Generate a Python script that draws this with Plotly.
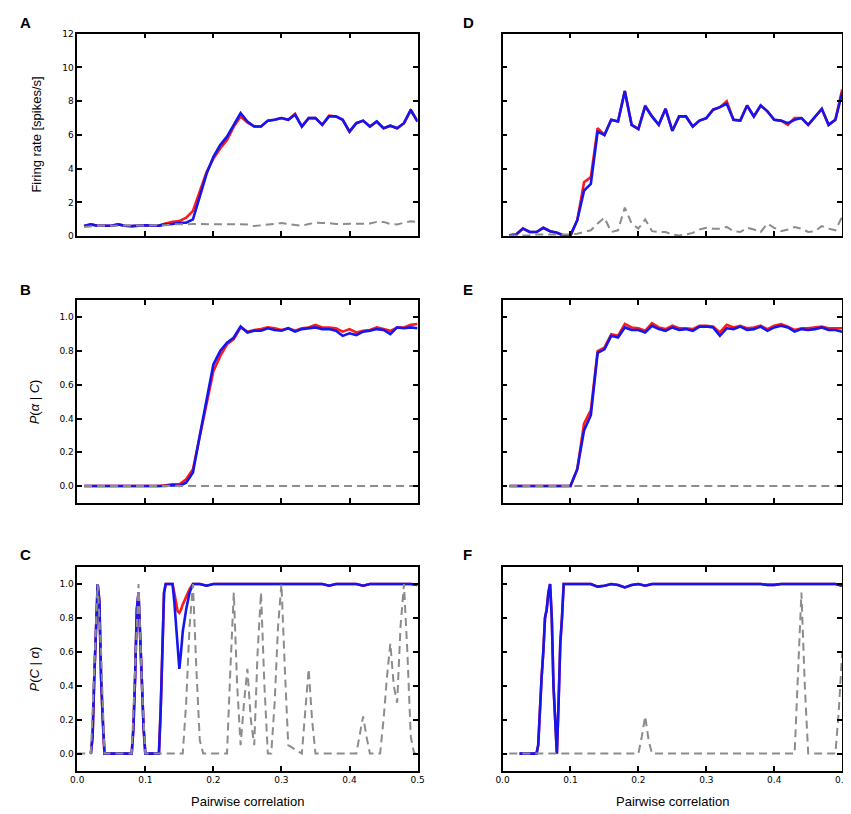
import plotly.graph_objects as go

W, H = 851, 814

# ---------------- data ----------------
corr = [0.01, 0.02, 0.03, 0.04, 0.05, 0.06, 0.07, 0.08, 0.09, 0.10,
        0.11, 0.12, 0.13, 0.14, 0.15, 0.16, 0.17, 0.18, 0.19, 0.20,
        0.21, 0.22, 0.23, 0.24, 0.25, 0.26, 0.27, 0.28, 0.29, 0.30,
        0.31, 0.32, 0.33, 0.34, 0.35, 0.36, 0.37, 0.38, 0.39, 0.40,
        0.41, 0.42, 0.43, 0.44, 0.45, 0.46, 0.47, 0.48, 0.49, 0.50]

# Panel A: firing rate
a_blue = [0.60, 0.70, 0.62, 0.62, 0.62, 0.70, 0.62, 0.60, 0.62, 0.65,
          0.62, 0.63, 0.70, 0.72, 0.80, 0.80, 1.00, 2.40, 3.70, 4.70,
          5.40, 5.90, 6.60, 7.30, 6.80, 6.50, 6.50, 6.85, 6.90, 7.00,
          6.90, 7.20, 6.50, 7.00, 7.00, 6.60, 7.10, 7.10, 6.90, 6.20,
          6.70, 6.85, 6.50, 6.80, 6.40, 6.55, 6.40, 6.70, 7.50, 6.80]
a_red = [0.60, 0.70, 0.62, 0.62, 0.62, 0.70, 0.62, 0.60, 0.62, 0.65,
         0.62, 0.63, 0.75, 0.85, 0.90, 1.10, 1.50, 2.60, 3.80, 4.60,
         5.20, 5.70, 6.50, 7.10, 6.75, 6.50, 6.50, 6.85, 6.90, 7.00,
         6.90, 7.25, 6.50, 7.00, 7.00, 6.60, 7.15, 7.10, 6.90, 6.20,
         6.70, 6.85, 6.50, 6.80, 6.40, 6.55, 6.40, 6.70, 7.45, 6.80]
a_gray = [0.55, 0.60, 0.62, 0.62, 0.62, 0.62, 0.62, 0.62, 0.62, 0.62,
          0.62, 0.62, 0.65, 0.70, 0.72, 0.72, 0.72, 0.72, 0.72, 0.72,
          0.72, 0.72, 0.72, 0.72, 0.70, 0.60, 0.65, 0.70, 0.72, 0.78,
          0.72, 0.68, 0.62, 0.72, 0.80, 0.78, 0.78, 0.72, 0.72, 0.72,
          0.72, 0.72, 0.75, 0.85, 0.85, 0.72, 0.70, 0.80, 0.88, 0.85]

# Panel D: firing rate
d_blue = [0.05, 0.10, 0.45, 0.25, 0.25, 0.50, 0.30, 0.20, 0.05, 0.05,
          0.95, 2.70, 3.10, 6.20, 6.00, 6.90, 6.80, 8.60, 6.60, 6.35,
          7.70, 7.10, 6.60, 7.55, 6.25, 7.10, 7.10, 6.50, 6.85, 7.00,
          7.50, 7.65, 7.85, 6.90, 6.85, 7.75, 7.10, 7.75, 7.40, 6.90,
          6.85, 6.70, 6.90, 7.00, 6.60, 7.10, 7.55, 6.60, 6.90, 8.50]
d_red = [0.05, 0.10, 0.45, 0.25, 0.25, 0.50, 0.30, 0.20, 0.05, 0.05,
         0.95, 3.20, 3.50, 6.40, 6.00, 6.90, 6.80, 8.60, 6.60, 6.35,
         7.75, 7.10, 6.60, 7.55, 6.25, 7.10, 7.10, 6.50, 6.85, 7.00,
         7.50, 7.65, 8.00, 6.90, 6.85, 7.75, 7.10, 7.75, 7.40, 6.90,
         6.85, 6.60, 7.00, 7.00, 6.60, 7.10, 7.55, 6.60, 6.90, 8.70]
d_gray = [0.05, 0.05, 0.05, 0.05, 0.10, 0.10, 0.10, 0.10, 0.10, 0.10,
          0.15, 0.25, 0.35, 0.75, 1.10, 0.25, 0.35, 1.70, 0.75, 0.45,
          1.00, 0.30, 0.25, 0.25, 0.10, 0.05, 0.10, 0.20, 0.40, 0.50,
          0.45, 0.45, 0.55, 0.30, 0.25, 0.50, 0.40, 0.25, 0.75, 0.50,
          0.30, 0.40, 0.55, 0.45, 0.25, 0.30, 0.60, 0.45, 0.35, 1.15]

# Panel B: P(alpha | C)
b_blue = [0, 0, 0, 0, 0, 0, 0, 0, 0, 0,
          0.0, 0.0, 0.0, 0.005, 0.0, 0.02, 0.08, 0.30, 0.52, 0.72,
          0.80, 0.85, 0.88, 0.945, 0.91, 0.92, 0.92, 0.935, 0.925, 0.92,
          0.935, 0.915, 0.93, 0.935, 0.94, 0.93, 0.93, 0.92, 0.89, 0.905,
          0.895, 0.915, 0.92, 0.93, 0.925, 0.90, 0.94, 0.935, 0.94, 0.935]
b_red = [0, 0, 0, 0, 0, 0, 0, 0, 0, 0,
         0.0, 0.0, 0.005, 0.01, 0.01, 0.04, 0.10, 0.30, 0.50, 0.68,
         0.77, 0.84, 0.87, 0.94, 0.915, 0.925, 0.93, 0.94, 0.935, 0.925,
         0.935, 0.92, 0.935, 0.94, 0.955, 0.94, 0.94, 0.935, 0.915, 0.93,
         0.91, 0.92, 0.925, 0.94, 0.93, 0.92, 0.94, 0.94, 0.955, 0.96]
b_gray = [0] * 50

# Panel E: P(alpha | C)
e_blue = [0, 0, 0, 0, 0, 0, 0, 0, 0, 0,
          0.10, 0.33, 0.42, 0.79, 0.81, 0.89, 0.88, 0.94, 0.925, 0.925,
          0.91, 0.95, 0.93, 0.92, 0.94, 0.925, 0.93, 0.92, 0.945, 0.945,
          0.94, 0.89, 0.935, 0.93, 0.945, 0.925, 0.93, 0.945, 0.92, 0.94,
          0.95, 0.94, 0.915, 0.93, 0.925, 0.93, 0.94, 0.925, 0.925, 0.915]
e_red = [0, 0, 0, 0, 0, 0, 0, 0, 0, 0,
         0.10, 0.37, 0.45, 0.80, 0.82, 0.90, 0.89, 0.96, 0.94, 0.935,
         0.92, 0.965, 0.94, 0.93, 0.95, 0.935, 0.935, 0.93, 0.95, 0.95,
         0.945, 0.91, 0.955, 0.94, 0.95, 0.935, 0.94, 0.95, 0.93, 0.95,
         0.96, 0.945, 0.925, 0.935, 0.935, 0.94, 0.945, 0.935, 0.935, 0.935]
e_gray = [0] * 50

# Panel C: P(C | alpha)
c_x = [0.02, 0.0225, 0.025, 0.0275, 0.03, 0.0325, 0.035, 0.0375, 0.04,
       0.08, 0.0825, 0.085, 0.0875, 0.09, 0.0925, 0.095, 0.0975, 0.10,
       0.12, 0.1225, 0.125, 0.1275, 0.13,
       0.14, 0.1425, 0.145, 0.1475, 0.15, 0.1525, 0.155, 0.16, 0.165, 0.17,
       0.18, 0.19, 0.20, 0.36, 0.37, 0.38, 0.41, 0.42, 0.43, 0.49, 0.50]
c_blue = [0, 0.1, 0.45, 0.8, 1.0, 0.9, 0.45, 0.2, 0,
          0, 0.15, 0.45, 0.85, 0.95, 0.7, 0.35, 0.15, 0,
          0, 0.25, 0.65, 0.95, 1.0,
          1.0, 0.9, 0.75, 0.6, 0.5, 0.6, 0.72, 0.85, 0.95, 1.0,
          1.0, 0.99, 1.0, 1.0, 0.99, 1.0, 1.0, 0.99, 1.0, 1.0, 0.995]
c_red = [0, 0.1, 0.45, 0.8, 1.0, 0.9, 0.45, 0.2, 0,
         0, 0.15, 0.45, 0.85, 0.95, 0.7, 0.35, 0.15, 0,
         0, 0.25, 0.65, 0.95, 1.0,
         1.0, 0.95, 0.88, 0.84, 0.83, 0.85, 0.88, 0.93, 0.97, 1.0,
         1.0, 0.99, 1.0, 1.0, 0.99, 1.0, 1.0, 0.99, 1.0, 1.0, 0.995]
c_gray_x = [0.0, 0.02, 0.025, 0.03, 0.035, 0.04,
            0.08, 0.085, 0.09, 0.095, 0.10,
            0.155, 0.16, 0.165, 0.17, 0.175, 0.18, 0.185,
            0.22, 0.225, 0.23, 0.235, 0.24, 0.245, 0.25, 0.255, 0.26, 0.265, 0.27, 0.275, 0.28,
            0.285, 0.29, 0.295, 0.30, 0.305, 0.31,
            0.33, 0.335, 0.34, 0.345, 0.35,
            0.41, 0.415, 0.42, 0.425, 0.43,
            0.445, 0.45, 0.455, 0.46, 0.465, 0.47, 0.475, 0.48, 0.485, 0.49, 0.495, 0.50]
c_gray = [0, 0, 0.5, 1.0, 0.6, 0,
          0, 0.5, 1.0, 0.4, 0,
          0, 0.3, 0.75, 1.0, 0.5, 0.08, 0,
          0, 0.5, 0.95, 0.4, 0.05, 0.3, 0.5, 0.2, 0.05, 0.6, 0.95, 0.4, 0,
          0, 0.3, 0.75, 1.0, 0.5, 0.05,
          0, 0.25, 0.5, 0.2, 0,
          0, 0.1, 0.22, 0.1, 0,
          0, 0.2, 0.45, 0.65, 0.4, 0.3, 0.75, 1.0, 0.6, 0.1, 0, 0]

# Panel F: P(C | alpha)
f_x = [0.025, 0.05,
       0.0525, 0.055, 0.0575, 0.06, 0.0625, 0.065, 0.0675, 0.07,
       0.0725, 0.075, 0.0775, 0.08, 0.0825, 0.085, 0.0875, 0.09,
       0.13, 0.14, 0.15, 0.16, 0.17, 0.18, 0.19, 0.20, 0.21, 0.22,
       0.38, 0.39, 0.40, 0.41, 0.49, 0.50]
f_blue = [0, 0,
          0.05, 0.3, 0.45, 0.6, 0.8, 0.85, 0.95, 1.0,
          0.8, 0.4, 0.2, 0.0, 0.3, 0.65, 0.8, 1.0,
          1.0, 0.985, 0.99, 1.0, 0.995, 0.98, 0.995, 1.0, 0.99, 1.0,
          1.0, 0.995, 0.995, 1.0, 1.0, 0.99]
f_red = f_blue
f_gray_x = [0.01, 0.2, 0.205, 0.21, 0.215, 0.22,
            0.43, 0.435, 0.44, 0.445, 0.45, 0.49, 0.495, 0.50]
f_gray = [0, 0, 0.1, 0.22, 0.08, 0,
          0, 0.5, 0.95, 0.4, 0, 0, 0.25, 0.6]

x_ticks = [0.0, 0.1, 0.2, 0.3, 0.4, 0.5]
rate_ticks = [0, 2, 4, 6, 8, 10, 12]
prob_ticks = [0.0, 0.2, 0.4, 0.6, 0.8, 1.0]

# ---------------- layout helpers ----------------
def px_x(p):
    return p / W

def px_y(p):
    return 1 - p / H

cols = [(63.3, 409.3), (495.7, 841.0)]
rows = [(21, 226), (291, 496), (561, 767)]

RED = "#ff1a1a"
BLUE = "#1515f0"
GRAY = "#8c8c8c"

fig = go.Figure()

panels = [
    # (row, col, series..., yrange, yticks, letter)
    (0, 0, (corr, a_red), (corr, a_blue), (corr, a_gray), [0, 12], rate_ticks, "A"),
    (1, 0, (corr, b_red), (corr, b_blue), (corr, b_gray), [-0.1, 1.1], prob_ticks, "B"),
    (2, 0, (c_x, c_red), (c_x, c_blue), (c_gray_x, c_gray), [-0.1, 1.1], prob_ticks, "C"),
    (0, 1, (corr, d_red), (corr, d_blue), (corr, d_gray), [0, 12], rate_ticks, "D"),
    (1, 1, (corr, e_red), (corr, e_blue), (corr, e_gray), [-0.1, 1.1], prob_ticks, "E"),
    (2, 1, (f_x, f_red), (f_x, f_blue), (f_gray_x, f_gray), [-0.1, 1.1], prob_ticks, "F"),
]

tick_font = dict(family="DejaVu Sans", size=9, color="black")
annotations = []

for i, (r, c, red, blue, gray, yr, yt, letter) in enumerate(panels):
    n = i + 1
    xa = "x" if n == 1 else f"x{n}"
    ya = "y" if n == 1 else f"y{n}"
    for (xs, ys), color, width, dash in [(red, RED, 2.6, "solid"),
                                         (blue, BLUE, 2.6, "solid"),
                                         (gray, GRAY, 2.0, "8px,5px")]:
        fig.add_trace(go.Scatter(x=xs, y=ys, mode="lines", xaxis=xa, yaxis=ya,
                                 line=dict(color=color, width=width, dash=dash),
                                 showlegend=False, hoverinfo="skip"))
    x0, x1 = cols[c]
    y0, y1 = rows[r]
    common = dict(showline=True, linecolor="black", linewidth=1.5, mirror="ticks",
                  ticks="inside", ticklen=5, tickwidth=1.5, tickcolor="black",
                  showgrid=False, zeroline=False, tickfont=tick_font)
    xkey = "xaxis" if n == 1 else f"xaxis{n}"
    ykey = "yaxis" if n == 1 else f"yaxis{n}"
    fig.update_layout(**{
        xkey: dict(domain=[px_x(x0), px_x(x1)], range=[0, 0.5], anchor=ya,
                   tickvals=x_ticks, ticktext=[f"{v:.1f}" for v in x_ticks],
                   showticklabels=(r == 2), **common),
        ykey: dict(domain=[px_y(y1), px_y(y0)], range=yr, anchor=xa,
                   tickvals=yt,
                   ticktext=[(str(v) if yr[1] > 2 else f"{v:.1f}") for v in yt],
                   showticklabels=(c == 0), **common),
    })
    lx = 3 if c == 0 else 453
    ly = {0: 10, 1: 280, 2: 548}[r]
    annotations.append(dict(text=f"<b>{letter}</b>", x=px_x(lx), y=px_y(ly),
                            xref="paper", yref="paper", xanchor="left", yanchor="middle",
                            showarrow=False, font=dict(family="Liberation Sans", size=15, color="black")))

title_font = dict(family="Liberation Sans", size=13, color="black")
annotations += [
    dict(text="Firing rate [spikes/s]", x=px_x(22), y=px_y(123.5), textangle=-90,
         xref="paper", yref="paper", xanchor="center", yanchor="middle",
         showarrow=False, font=title_font),
    dict(text="<i>P</i>(<i>α</i> | <i>C</i>)", x=px_x(20), y=px_y(393.5), textangle=-90,
         xref="paper", yref="paper", xanchor="center", yanchor="middle",
         showarrow=False, font=title_font),
    dict(text="<i>P</i>(<i>C</i> | <i>α</i>)", x=px_x(20), y=px_y(664), textangle=-90,
         xref="paper", yref="paper", xanchor="center", yanchor="middle",
         showarrow=False, font=title_font),
    dict(text="Pairwise correlation", x=px_x(236.3), y=px_y(798),
         xref="paper", yref="paper", xanchor="center", yanchor="middle",
         showarrow=False, font=title_font),
    dict(text="Pairwise correlation", x=px_x(668.3), y=px_y(798),
         xref="paper", yref="paper", xanchor="center", yanchor="middle",
         showarrow=False, font=title_font),
]

fig.update_layout(width=W, height=H, margin=dict(l=0, r=0, t=0, b=0),
                  paper_bgcolor="white", plot_bgcolor="white",
                  annotations=annotations, showlegend=False)

fig.write_html("out.html")
